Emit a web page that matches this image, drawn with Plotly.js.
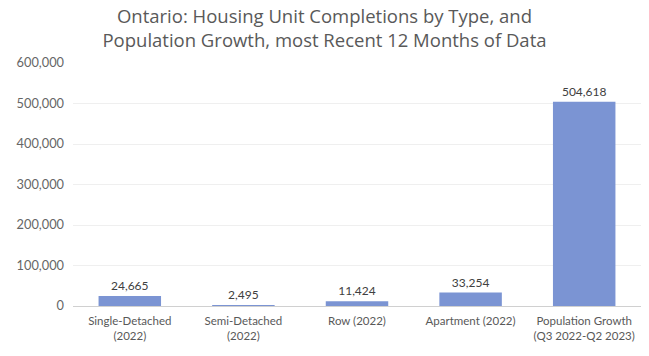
<!DOCTYPE html>
<html>
<head>
<meta charset="utf-8">
<script src="https://cdn.plot.ly/plotly-3.0.1.min.js"></script>
<style>html,body{margin:0;padding:0;background:#fff;}#chart{width:649px;height:356px;}</style>
</head>
<body>
<div id="chart"></div>
<script>
const categories = ["Single-Detached<br>(2022)", "Semi-Detached<br>(2022)", "Row (2022)", "Apartment (2022)", "Population Growth<br>(Q3 2022-Q2 2023)"];
const values = [24665, 2495, 11424, 33254, 504618];
const tickVals = [0, 100000, 200000, 300000, 400000, 500000, 600000];

const trace = {
  type: "bar",
  x: categories,
  y: values,
  marker: {color: "#7b94d3"},
  text: values.map(v => v.toLocaleString("en-US")),
  textposition: "outside",
  textfont: {family: "Lato, 'Open Sans', sans-serif", size: 12, color: "#404040"},
  cliponaxis: false,
  hoverinfo: "none"
};

const layout = {
  width: 649, height: 356,
  margin: {l: 73, r: 8, t: 63, b: 50},
  paper_bgcolor: "#ffffff", plot_bgcolor: "#ffffff",
  bargap: 0.45,
  showlegend: false,
  title: {
    text: "Ontario: Housing Unit Completions by Type, and<br>Population Growth, most Recent 12 Months of Data",
    font: {family: "'Open Sans', sans-serif", size: 18.5, color: "#595959"},
    x: 0.5, xanchor: "center", xref: "container",
    y: 0.935, yanchor: "middle", yref: "container"
  },
  xaxis: {
    type: "category",
    tickfont: {family: "Lato, 'Open Sans', sans-serif", size: 11.5, color: "#595959"},
    showline: true, linecolor: "#d0d0d0", linewidth: 1,
    ticks: "", showgrid: false,
    ticklabelstandoff: 4
  },
  yaxis: {
    range: [0, 600000],
    tickvals: tickVals,
    tickformat: ",",
    tickfont: {family: "Lato, 'Open Sans', sans-serif", size: 12.8, color: "#666666"},
    showgrid: true, gridcolor: "#efefef", gridwidth: 1,
    zeroline: false, showline: false, ticks: "",
    ticklabelstandoff: 8
  }
};

Plotly.newPlot("chart", [trace], layout, {displayModeBar: false, staticPlot: true});
</script>
</body>
</html>
